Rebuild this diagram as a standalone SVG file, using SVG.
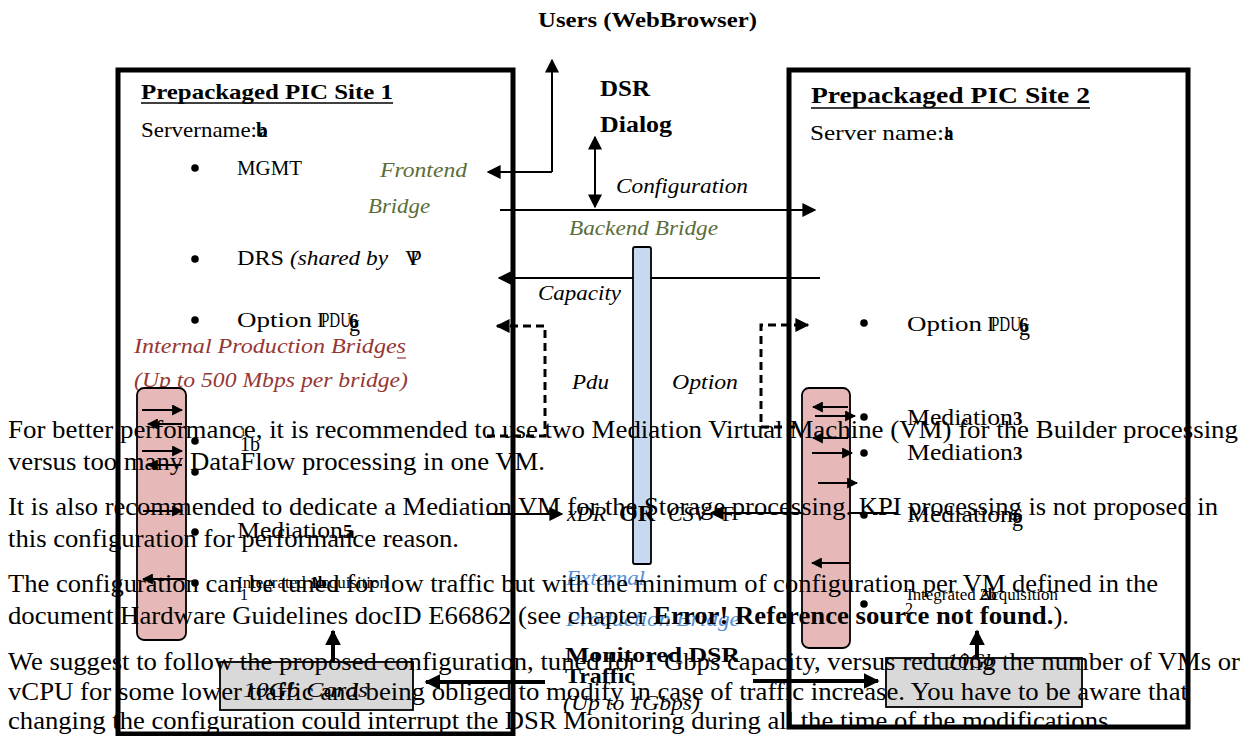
<svg xmlns="http://www.w3.org/2000/svg" width="1252" height="736" viewBox="0 0 1252 736">
  <style>
    .dg { font-family: "Liberation Serif", "Times New Roman", serif; fill: #000; }
    .b { font-weight: bold; }
    .i { font-style: italic; }
    .green { fill: #5A6E3A; }
    .red { fill: #953735; }
    .blue { fill: #558ED5; }
    .site { fill: none; stroke: #000; stroke-width: 5; }
    .line { fill: none; stroke: #000; stroke-width: 2; }
    .thick { fill: none; stroke: #000; stroke-width: 4; }
    .dash { fill: none; stroke: #000; stroke-width: 3; stroke-dasharray: 8 5; }
    .pink { fill: #E6B9B8; stroke: #000; stroke-width: 1.8; }
    .card { fill: #D9D9D9; stroke: #000; stroke-width: 1.8; }
    .bar { fill: #C6D9F0; stroke: #000; stroke-width: 1.8; }
    .body { font-family: "Liberation Serif", "Times New Roman", serif; font-size: 25px; fill: #000; }
  </style>
  <defs>
    <marker id="ah" viewBox="0 0 10 10" refX="9" refY="5" markerWidth="14" markerHeight="14" markerUnits="userSpaceOnUse" orient="auto-start-reverse">
      <path d="M0,0 L10,5 L0,10 z" fill="#000"/>
    </marker>
    <marker id="ahs" viewBox="0 0 10 10" refX="9" refY="5" markerWidth="11" markerHeight="11" markerUnits="userSpaceOnUse" orient="auto-start-reverse">
      <path d="M0,0 L10,5 L0,10 z" fill="#000"/>
    </marker>
    <marker id="ahb" viewBox="0 0 10 10" refX="9" refY="5" markerWidth="16" markerHeight="16" markerUnits="userSpaceOnUse" orient="auto-start-reverse">
      <path d="M0,0 L10,5 L0,10 z" fill="#000"/>
    </marker>
  </defs>

  <rect width="1252" height="736" fill="#fff"/>

  <!-- connectors between the two sites and the outside -->
  <g id="connectors">
    <!-- web users / frontend -->
    <path class="line" d="M552,172 V60" marker-end="url(#ah)"/>
    <path class="line" d="M552,172 H488" marker-end="url(#ah)"/>
    <!-- DSR dialog -->
    <path class="line" d="M595,137 V207" marker-start="url(#ah)" marker-end="url(#ah)"/>
    <!-- configuration -->
    <path class="line" d="M500,210 H815" marker-end="url(#ah)"/>
    <!-- capacity -->
    <path class="line" d="M820,278 H499" marker-end="url(#ah)"/>
    <!-- Pdu / Option dashed links -->
    <path class="dash" d="M487,436 H545 V326 H497" marker-end="url(#ah)"/>
    <path class="dash" d="M795,427 H761 V325 H808" marker-end="url(#ah)"/>
    <!-- xDR OR CSV -->
    <path class="line" d="M487,514 H562" stroke-width="3" marker-end="url(#ah)"/>
    <path class="line" d="M898,513 H711" stroke-width="3" marker-end="url(#ah)"/>
    <!-- monitored traffic to 10Gb cards -->
    <path class="thick" d="M545,682 H426" marker-end="url(#ahb)"/>
    <path class="thick" d="M753,681 H878" marker-end="url(#ahb)"/>
    <path class="thick" d="M333,662 V631" marker-end="url(#ahb)"/>
    <path class="thick" d="M977,658 V631" marker-end="url(#ahb)"/>
  </g>

  <g id="users">
    <text class="dg b" x="538" y="27" font-size="21" textLength="219" lengthAdjust="spacingAndGlyphs">Users (WebBrowser)</text>
  </g>

  <g id="dsr-dialog">
    <text class="dg b" x="600" y="96" font-size="23" textLength="50" lengthAdjust="spacingAndGlyphs">DSR</text>
    <text class="dg b" x="600" y="132" font-size="23" textLength="72" lengthAdjust="spacingAndGlyphs">Dialog</text>
  </g>

  <g id="bridge-labels">
    <text class="dg i green" x="380" y="177" font-size="22" textLength="87" lengthAdjust="spacingAndGlyphs">Frontend</text>
    <text class="dg i green" x="368" y="213" font-size="22" textLength="62" lengthAdjust="spacingAndGlyphs">Bridge</text>
    <text class="dg i" x="616" y="193" font-size="21" textLength="132" lengthAdjust="spacingAndGlyphs">Configuration</text>
    <text class="dg i green" x="569" y="235" font-size="21" textLength="149" lengthAdjust="spacingAndGlyphs">Backend Bridge</text>
    <text class="dg i" x="538" y="300" font-size="21" textLength="83" lengthAdjust="spacingAndGlyphs">Capacity</text>
    <text class="dg i" x="572" y="389" font-size="22" textLength="37" lengthAdjust="spacingAndGlyphs">Pdu</text>
    <text class="dg i" x="672" y="389" font-size="22" textLength="66" lengthAdjust="spacingAndGlyphs">Option</text>
  </g>

  <!-- external production bridge -->
  <g id="external-bridge">
    <rect class="bar" x="633" y="247" width="18" height="317" rx="2"/>
    <text class="dg i" x="567" y="521" font-size="22">xDR</text>
    <text class="dg b" x="619" y="521" font-size="24">OR</text>
    <text class="dg i" x="668" y="521" font-size="22">CSV</text>
    <text class="dg" x="722" y="521" font-size="22">F</text>
    <text class="dg i blue" x="566" y="585" font-size="21" textLength="79" lengthAdjust="spacingAndGlyphs">External</text>
    <text class="dg i blue" x="566" y="626" font-size="21" textLength="174" lengthAdjust="spacingAndGlyphs">Production Bridge</text>
  </g>

  <g id="monitored-traffic">
    <text class="dg b" x="565" y="662" font-size="22" textLength="175" lengthAdjust="spacingAndGlyphs">Monitored DSR</text>
    <text class="dg b" x="565" y="683" font-size="22" textLength="70" lengthAdjust="spacingAndGlyphs">Traffic</text>
    <text class="dg i" x="563" y="710" font-size="21" textLength="137" lengthAdjust="spacingAndGlyphs">(Up to 1Gbps)</text>
  </g>

  <!-- site 1 -->
  <g id="site1">
    <rect class="site" x="118" y="70" width="395" height="664"/>
    <text class="dg b" x="141" y="99" font-size="22" textLength="252" lengthAdjust="spacingAndGlyphs">Prepackaged PIC Site 1</text>
    <line x1="141" y1="103" x2="393" y2="103" stroke="#000" stroke-width="1.5"/>
    <text class="dg" x="141" y="137" font-size="22" textLength="116" lengthAdjust="spacingAndGlyphs">Servername:</text>
    <text class="dg b" x="256" y="137" font-size="21">b</text>
    <text class="dg b" x="259" y="137" font-size="17">a</text>

    <circle cx="195" cy="168" r="3.8"/>
    <text class="dg" x="237" y="175" font-size="22" textLength="65" lengthAdjust="spacingAndGlyphs">MGMT</text>
    <circle cx="195" cy="259" r="3.8"/>
    <text class="dg" x="237" y="265" font-size="22" textLength="47" lengthAdjust="spacingAndGlyphs">DRS</text>
    <text class="dg i" x="290" y="265" font-size="22" textLength="98" lengthAdjust="spacingAndGlyphs">(shared by</text>
    <text class="dg" x="405" y="265" font-size="21">V</text>
    <text class="dg" x="410" y="265" font-size="21">P</text>
    <circle cx="195" cy="320" r="3.8"/>
    <text class="dg" x="237" y="327" font-size="22" textLength="75" lengthAdjust="spacingAndGlyphs">Option</text>
    <text class="dg" x="317" y="327" font-size="22">I</text>
    <text class="dg" x="321" y="327" font-size="22" textLength="30" lengthAdjust="spacingAndGlyphs">PDU</text>
    <text class="dg b" x="349" y="327" font-size="19">6</text>
    <text class="dg" x="349" y="331" font-size="22">g</text>

    <text class="dg i red" x="134" y="353" font-size="21" textLength="272" lengthAdjust="spacingAndGlyphs">Internal Production Bridges</text>
    <line x1="397" y1="358" x2="406" y2="358" stroke="#953735" stroke-width="1.2"/>
    <text class="dg i red" x="134" y="387" font-size="21" textLength="274" lengthAdjust="spacingAndGlyphs">(Up to 500 Mbps per bridge)</text>

    <rect class="pink" x="137" y="388" width="49" height="252" rx="7"/>
    <path class="line" d="M142,410 H182" marker-end="url(#ahs)"/>
    <path class="line" d="M182,424 H148" marker-end="url(#ahs)"/>
    <path class="line" d="M142,451 H182" marker-end="url(#ahs)"/>
    <path class="line" d="M182,465 H148" marker-end="url(#ahs)"/>
    <path class="line" d="M143,511 H182" marker-end="url(#ahs)"/>
    <path class="line" d="M185,579 H143" marker-end="url(#ahs)"/>

    <circle cx="195" cy="441" r="3.8"/>
    <text class="dg" x="240" y="436" font-size="12">1</text>
    <text class="dg" x="240" y="451" font-size="20">1b</text>
    <circle cx="195" cy="472" r="3.8"/>
    <circle cx="195" cy="532" r="3.8"/>
    <text class="dg" x="237" y="538" font-size="23" textLength="106" lengthAdjust="spacingAndGlyphs">Mediation</text>
    <text class="dg b" x="343" y="538" font-size="19">5</text>
    <text class="dg b" x="346" y="538" font-size="17">a</text>
    <circle cx="195" cy="583" r="3.8"/>
    <text class="dg" x="237" y="588" font-size="16" textLength="151" lengthAdjust="spacingAndGlyphs">Integrated      Acquisition</text>
    <text class="dg b" x="310" y="588" font-size="16">1b</text>
    <text class="dg" x="240" y="600" font-size="16">1</text>

    <rect class="card" x="220" y="662" width="193" height="48"/>
    <text class="dg i" x="243" y="697" font-size="22" textLength="125" lengthAdjust="spacingAndGlyphs">10Gb Cards</text>
  </g>

  <!-- site 2 -->
  <g id="site2">
    <rect class="site" x="789" y="70" width="399" height="657"/>
    <text class="dg b" x="811" y="103" font-size="24" textLength="279" lengthAdjust="spacingAndGlyphs">Prepackaged PIC Site 2</text>
    <line x1="811" y1="108" x2="1090" y2="108" stroke="#000" stroke-width="1.5"/>
    <text class="dg" x="810" y="140" font-size="22" textLength="134" lengthAdjust="spacingAndGlyphs">Server name:</text>
    <text class="dg b" x="944" y="140" font-size="19">a</text>
    <text class="dg b" x="945" y="137" font-size="14">b</text>

    <circle cx="864" cy="323" r="3.8"/>
    <text class="dg" x="907" y="331" font-size="22" textLength="75" lengthAdjust="spacingAndGlyphs">Option</text>
    <text class="dg" x="987" y="331" font-size="22">I</text>
    <text class="dg" x="991" y="331" font-size="22" textLength="30" lengthAdjust="spacingAndGlyphs">PDU</text>
    <text class="dg b" x="1019" y="331" font-size="19">6</text>
    <text class="dg" x="1019" y="335" font-size="22">g</text>

    <rect class="pink" x="802" y="388" width="48" height="260" rx="7"/>
    <path class="line" d="M848,407 H813" marker-end="url(#ahs)"/>
    <path class="line" d="M815,416 H855" marker-end="url(#ahs)"/>
    <path class="line" d="M848,438 H813" marker-end="url(#ahs)"/>
    <path class="line" d="M812,453 H852" marker-end="url(#ahs)"/>
    <path class="line" d="M818,483 H857" marker-end="url(#ahs)"/>
    <path class="line" d="M850,563 H812" marker-end="url(#ahs)"/>

    <circle cx="864" cy="417" r="3.8"/>
    <text class="dg" x="907" y="425" font-size="23" textLength="106" lengthAdjust="spacingAndGlyphs">Mediation</text>
    <text class="dg b" x="1013" y="425" font-size="19">3</text>
    <circle cx="864" cy="453" r="3.8"/>
    <text class="dg" x="907" y="460" font-size="23" textLength="106" lengthAdjust="spacingAndGlyphs">Mediation</text>
    <text class="dg b" x="1013" y="460" font-size="19">3</text>
    <circle cx="864" cy="515" r="3.8"/>
    <text class="dg" x="907" y="522" font-size="23" textLength="106" lengthAdjust="spacingAndGlyphs">Mediation</text>
    <text class="dg b" x="1013" y="522" font-size="19">6</text>
    <text class="dg" x="1012" y="526" font-size="22">g</text>
    <circle cx="864" cy="604" r="3.8"/>
    <text class="dg" x="907" y="600" font-size="16" textLength="151" lengthAdjust="spacingAndGlyphs">Integrated      Acquisition</text>
    <text class="dg b" x="980" y="600" font-size="16">2b</text>
    <text class="dg" x="905" y="614" font-size="16">2</text>

    <rect class="card" x="886" y="658" width="196" height="49"/>
    <text class="dg i" x="947" y="668" font-size="22">10Gb</text>
  </g>

  <!-- running text of the page -->
  <g id="page-text">
    <text class="body" x="8" y="438" textLength="1230" lengthAdjust="spacingAndGlyphs">For better performance, it is recommended to use two Mediation Virtual Machine (VM)   for the Builder processing</text>
    <text class="body" x="8" y="470" textLength="537" lengthAdjust="spacingAndGlyphs">versus too many DataFlow processing in one VM.</text>
    <text class="body" x="8" y="515" textLength="1210" lengthAdjust="spacingAndGlyphs">It is also recommended to dedicate a Mediation VM for the Storage processing. KPI processing is not proposed in</text>
    <text class="body" x="8" y="547" textLength="451" lengthAdjust="spacingAndGlyphs">this configuration for performance reason.</text>
    <text class="body" x="8" y="592" textLength="1150" lengthAdjust="spacingAndGlyphs">The configuration can be tuned for low traffic but with the minimum of configuration per VM defined in the</text>
    <text class="body" x="8" y="624" textLength="1061" lengthAdjust="spacingAndGlyphs">document Hardware Guidelines docID E66862 (see chapter <tspan font-weight="bold">Error! Reference source not found.</tspan>).</text>
    <text class="body" x="8" y="670" textLength="1232" lengthAdjust="spacingAndGlyphs">We suggest to follow the proposed configuration, tuned for 1 Gbps capacity, versus reducing the number of VMs or</text>
    <text class="body" x="8" y="700" textLength="1180" lengthAdjust="spacingAndGlyphs">vCPU for some lower traffic and being obliged to modify in case of traffic increase. You have to be aware that</text>
    <text class="body" x="8" y="729" textLength="1107" lengthAdjust="spacingAndGlyphs">changing the configuration could interrupt the DSR Monitoring during all the time of the modifications.</text>
  </g>
</svg>
